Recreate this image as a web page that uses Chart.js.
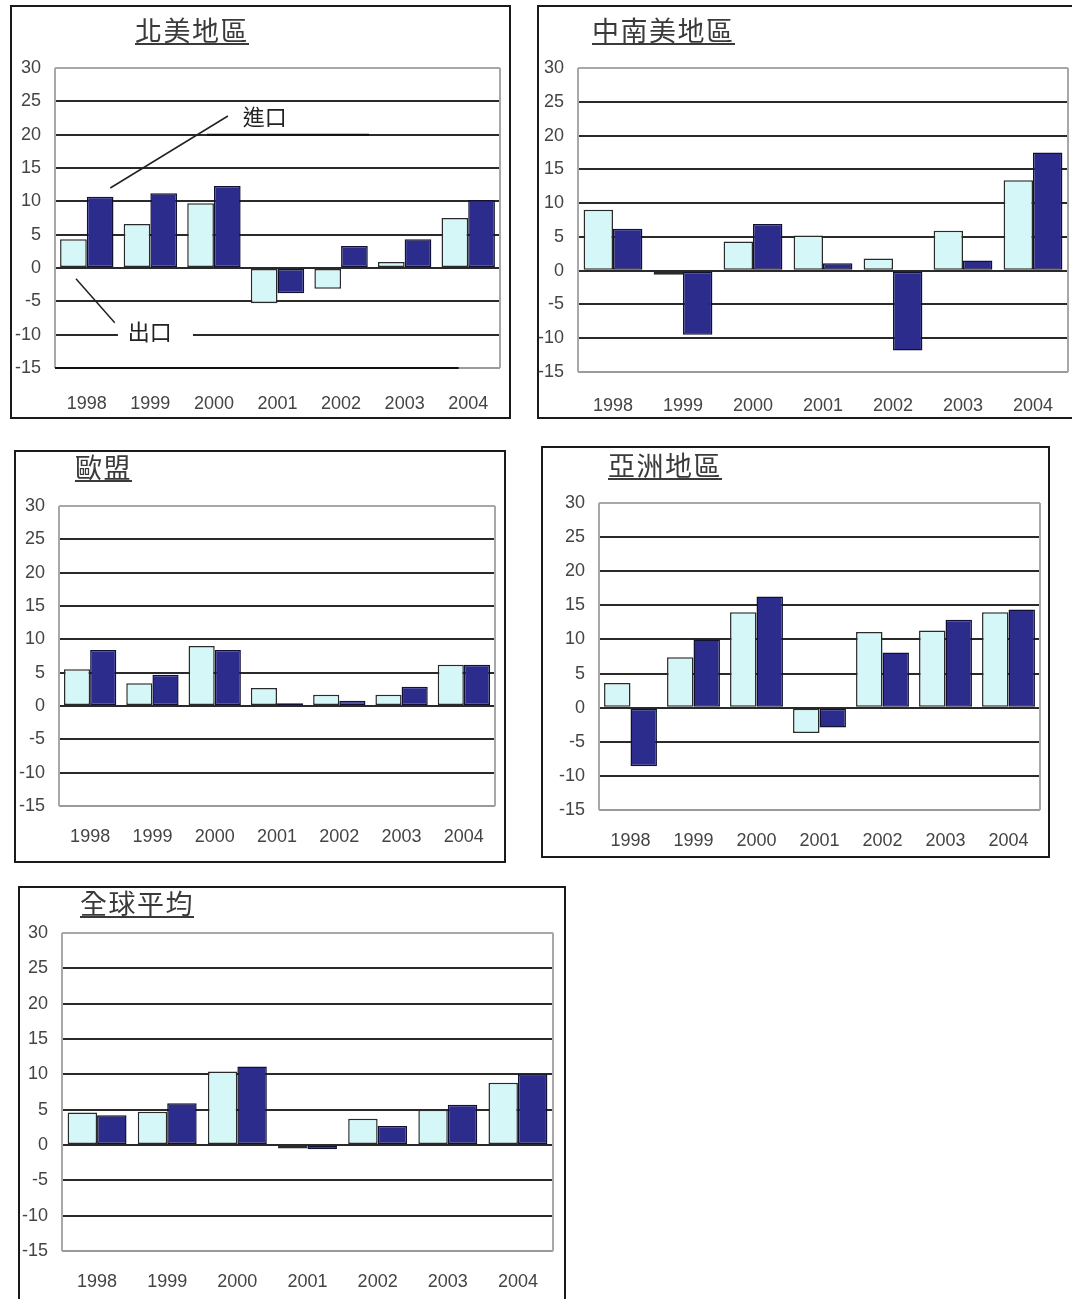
<!DOCTYPE html>
<html>
<head>
<meta charset="utf-8">
<script src="https://cdn.jsdelivr.net/npm/chart.js@4.4.1/dist/chart.umd.min.js"></script>
<style>
  html, body { margin:0; padding:0; background:#fff; }
  #root { position:relative; width:1072px; height:1299px; overflow:hidden; background:#fff; }
  .box { position:absolute; border:2px solid #1a1a1a; box-sizing:border-box; }
  canvas { position:absolute; }
  .ttl { position:absolute; font-family:"Noto Sans CJK TC","Noto Sans CJK SC",sans-serif; font-size:27px; line-height:27px;
         color:#3a3a3a; letter-spacing:1.5px; border-bottom:2px solid #3a3a3a; white-space:nowrap; }
</style>
</head>
<body>
<div id="root"></div>
<script>
// ---- data (% change) ----
const years = ['1998','1999','2000','2001','2002','2003','2004'];
const yTicks = [-15, -10, -5, 0, 5, 10, 15, 20, 25, 30];
const seriesNames = ['出口', '進口'];

const naExport = [4.3, 6.6, 9.7, -5.3, -3.1, 0.9, 7.5];
const naImport = [10.7, 11.2, 12.3, -3.8, 3.3, 4.3, 10.2];

const laExport = [9.0, -0.6, 4.3, 5.2, 1.8, 5.9, 13.4];
const laImport = [6.2, -9.5, 6.9, 1.1, -11.8, 1.5, 17.5];

const euExport = [5.5, 3.4, 9.0, 2.7, 1.7, 1.7, 6.2];
const euImport = [8.4, 4.7, 8.4, 0.4, 0.8, 2.9, 6.2];

const asExport = [3.6, 7.4, 14.0, -3.7, 11.1, 11.3, 14.0];
const asImport = [-8.6, 10.0, 16.3, -2.9, 8.1, 12.9, 14.4];

const glExport = [4.6, 4.7, 10.4, -0.5, 3.7, 5.0, 8.8];
const glImport = [4.2, 5.9, 11.1, -0.6, 2.7, 5.7, 10.0];

const titles = ['北美地區', '中南美地區', '歐盟', '亞洲地區', '全球平均'];

// ---- layout ----
const panels = [
  { title: titles[0], exp: naExport, imp: naImport, box: [10, 5, 501, 414], plot: [55, 68, 445, 300], ttl: [135, 16], xpad: 17, annotate: true },
  { title: titles[1], exp: laExport, imp: laImport, box: [537, 5, 545, 414], plot: [578, 68, 490, 304], ttl: [592, 16], xpad: 15 },
  { title: titles[2], exp: euExport, imp: euImport, box: [14, 450, 492, 413], plot: [59, 506, 436, 300], ttl: [75, 453], xpad: 12 },
  { title: titles[3], exp: asExport, imp: asImport, box: [541, 446, 509, 412], plot: [599, 503, 441, 307], ttl: [608, 451], xpad: 12 },
  { title: titles[4], exp: glExport, imp: glImport, box: [18, 886, 548, 416], plot: [62, 933, 491, 318], ttl: [80, 889], xpad: 12 }
];

const frame = {
  id: 'frame',
  beforeDatasetsDraw(chart) {
    const { ctx, chartArea: a } = chart;
    ctx.save();
    ctx.strokeStyle = '#a8a8a8';
    ctx.lineWidth = 2;
    ctx.beginPath();
    ctx.moveTo(a.left, a.top); ctx.lineTo(a.left, a.bottom);
    ctx.moveTo(a.right, a.top); ctx.lineTo(a.right, a.bottom);
    ctx.stroke();
    ctx.restore();
  }
};

const annot = {
  id: 'annot',
  afterDatasetsDraw(chart, args, opts) {
    if (!opts || !opts.on) return;
    const { ctx } = chart;
    const xs = chart.scales.x, ys = chart.scales.y;
    const X = v => xs.getPixelForValue(0) + v * (xs.getPixelForValue(1) - xs.getPixelForValue(0));
    const Y = v => ys.getPixelForValue(v);
    ctx.save();
    ctx.strokeStyle = '#111';
    ctx.lineWidth = 2;
    ctx.beginPath();
    ctx.moveTo(X(1.89), Y(20)); ctx.lineTo(X(4.44), Y(20));
    ctx.moveTo(X(-0.5), Y(-15)); ctx.lineTo(X(5.85), Y(-15));
    ctx.stroke();
    ctx.fillStyle = '#fff';
    ctx.fillRect(X(0.49), Y(-10) - 3, X(1.67) - X(0.49), 6);
    ctx.strokeStyle = '#222';
    ctx.lineWidth = 1.5;
    ctx.beginPath();
    ctx.moveTo(X(0.37), Y(12.0)); ctx.lineTo(X(2.22), Y(22.8));
    ctx.moveTo(X(-0.17), Y(-1.6)); ctx.lineTo(X(0.44), Y(-8.2));
    ctx.stroke();
    ctx.fillStyle = '#222';
    ctx.font = '22px "Noto Sans CJK TC", sans-serif';
    ctx.textAlign = 'center';
    ctx.textBaseline = 'middle';
    ctx.fillText(seriesNames[1], X(2.80), Y(22.7));
    ctx.fillText(seriesNames[0], X(0.99), Y(-9.5));
    ctx.restore();
  }
};

const root = document.getElementById('root');
const tickFont = { family: '"Liberation Sans", Arial, sans-serif', size: 18 };

panels.forEach((p, i) => {
  const [bx, by, bw, bh] = p.box;
  const [px, py, pw, ph] = p.plot;
  const b = document.createElement('div');
  b.className = 'box';
  Object.assign(b.style, { left: bx + 'px', top: by + 'px', width: bw + 'px', height: bh + 'px' });
  root.appendChild(b);

  const c = document.createElement('canvas');
  c.width = bw; c.height = bh;
  Object.assign(c.style, { left: bx + 'px', top: by + 'px', width: bw + 'px', height: bh + 'px' });
  root.appendChild(c);

  const t = document.createElement('div');
  t.className = 'ttl';
  t.textContent = p.title;
  Object.assign(t.style, { left: p.ttl[0] + 'px', top: p.ttl[1] + 'px' });
  root.appendChild(t);

  const yW = px - bx;
  const xH = (by + bh) - (py + ph);
  new Chart(c, {
    type: 'bar',
    data: {
      labels: years,
      datasets: [
        { label: seriesNames[0], data: p.exp, backgroundColor: '#d5f7f7', borderColor: '#2a2a2a', borderWidth: 1.5, borderSkipped: false,
          barPercentage: 1, categoryPercentage: 0.84 },
        { label: seriesNames[1], data: p.imp, backgroundColor: '#2c2c8c', borderColor: '#111133', borderWidth: 1.5, borderSkipped: false,
          barPercentage: 1, categoryPercentage: 0.84 }
      ]
    },
    options: {
      responsive: false,
      animation: false,
      devicePixelRatio: 1,
      layout: { padding: { left: 0, top: py - by, right: (bx + bw) - (px + pw), bottom: 0 } },
      plugins: {
        legend: { display: false },
        tooltip: { enabled: false },
        title: { display: false },
        annot: { on: !!p.annotate }
      },
      scales: {
        x: {
          grid: { display: false },
          border: { display: false },
          ticks: { color: '#444', font: tickFont, padding: p.xpad, maxRotation: 0 },
          afterFit(s) { s.height = xH; }
        },
        y: {
          min: yTicks[0], max: yTicks[yTicks.length - 1],
          afterBuildTicks(s) { s.ticks = yTicks.map(v => ({ value: v })); },
          border: { display: false },
          grid: {
            drawTicks: false,
            lineWidth: 2,
            color: ctx => ctx.tick && ctx.tick.value === 30 ? '#a8a8a8' : (ctx.tick && ctx.tick.value === -15 ? '#9a9a9a' : '#2a2a2a')
          },
          ticks: { color: '#444', font: tickFont, padding: 14 },
          afterFit(s) { s.width = yW; }
        }
      }
    },
    plugins: [frame, annot]
  });
});
</script>
</body>
</html>
